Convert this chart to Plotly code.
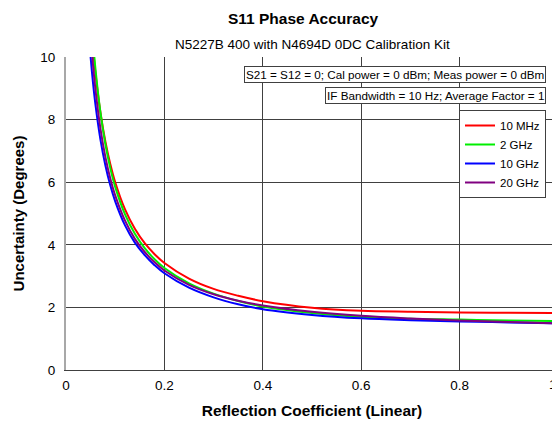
import plotly.graph_objects as go

# Reflection coefficient (linear) sample points and uncertainty readings (degrees)
gamma_10mhz = [0.05, 0.055, 0.06, 0.07, 0.08, 0.09, 0.1, 0.12, 0.14, 0.16, 0.18, 0.2, 0.25, 0.3, 0.35, 0.4, 0.5, 0.6, 0.7, 0.8, 0.9, 1.0]
u_10mhz = [11.2, 10.26, 9.47, 8.23, 7.3, 6.58, 6.0, 5.13, 4.51, 4.05, 3.70, 3.42, 2.92, 2.59, 2.37, 2.2, 1.99, 1.89, 1.86, 1.84, 1.83, 1.82]

gamma_2ghz = [0.05, 0.055, 0.06, 0.07, 0.08, 0.09, 0.1, 0.12, 0.14, 0.16, 0.18, 0.2, 0.25, 0.3, 0.35, 0.4, 0.5, 0.6, 0.7, 0.8, 0.9, 1.0]
u_2ghz = [11.5, 10.48, 9.6, 8.23, 7.22, 6.45, 5.85, 4.97, 4.35, 3.89, 3.54, 3.26, 2.77, 2.44, 2.205, 2.03, 1.82, 1.70, 1.64, 1.61, 1.58, 1.56]

gamma_10ghz = [0.045, 0.05, 0.055, 0.06, 0.07, 0.08, 0.09, 0.1, 0.12, 0.14, 0.16, 0.18, 0.2, 0.25, 0.3, 0.35, 0.4, 0.5, 0.6, 0.7, 0.8, 0.9, 1.0]
u_10ghz = [11.05, 10.0, 9.16, 8.46, 7.36, 6.54, 5.90, 5.39, 4.62, 4.07, 3.67, 3.35, 3.09, 2.63, 2.32, 2.10, 1.94, 1.76, 1.65, 1.59, 1.55, 1.52, 1.49]

gamma_20ghz = [0.045, 0.05, 0.055, 0.06, 0.07, 0.08, 0.09, 0.1, 0.12, 0.14, 0.16, 0.18, 0.2, 0.25, 0.3, 0.35, 0.4, 0.5, 0.6, 0.7, 0.8, 0.9, 1.0]
u_20ghz = [11.9, 10.7, 9.73, 8.94, 7.71, 6.81, 6.12, 5.58, 4.77, 4.19, 3.77, 3.44, 3.18, 2.72, 2.42, 2.215, 2.06, 1.86, 1.73, 1.645, 1.58, 1.53, 1.49]

series_names = ["10 MHz", "2 GHz", "10 GHz", "20 GHz"]
series_colors = ["#ff0000", "#00ee00", "#0000ff", "#800080"]

x_ticks = [0, 0.2, 0.4, 0.6, 0.8, 1]
x_tick_labels = ["0", "0.2", "0.4", "0.6", "0.8", "1"]
y_ticks = [0, 2, 4, 6, 8, 10]

FONT = "Liberation Sans, Arial, sans-serif"

fig = go.Figure()
for gx, gy, name, col in zip(
    [gamma_10mhz, gamma_2ghz, gamma_10ghz, gamma_20ghz],
    [u_10mhz, u_2ghz, u_10ghz, u_20ghz],
    series_names, series_colors,
):
    fig.add_trace(go.Scatter(
        x=gx, y=gy, mode="lines", name=name,
        line=dict(color=col, width=2, shape="spline", smoothing=1.0),
    ))

# page is offset by the default 8px body margin
OFF = 8
W, H = 552, 419
L, R, T, B = 58, 2, 49, 57
pw = W - L - R
ph = H - T - B

def px_x(p):  # page pixel -> paper
    return (p - OFF - L) / pw

def px_y(p):
    return (H - B - (p - OFF)) / ph

# the last tick label sits flush against the right edge (drawn right-aligned)
axis_tick_text = x_tick_labels[:-1] + [""]

fig.update_layout(
    width=W, height=H,
    margin=dict(l=L, r=R, t=T, b=B, autoexpand=False),
    paper_bgcolor="white", plot_bgcolor="white",
    font=dict(family=FONT, size=13, color="black"),
    showlegend=True,
    legend=dict(
        x=px_x(546), y=px_y(110), xanchor="right", yanchor="top",
        bordercolor="#404040", borderwidth=1, bgcolor="white",
        font=dict(size=11.5, family=FONT), itemwidth=30, tracegroupgap=0,
    ),
    xaxis=dict(
        range=[0, 1], tickvals=x_ticks, ticktext=axis_tick_text,
        showgrid=True, gridcolor="#404040", gridwidth=1,
        showline=True, linecolor="#404040", linewidth=1,
        zeroline=False, ticks="", tickfont=dict(size=13.5), ticklabelstandoff=3,
        title=dict(text="<b>Reflection Coefficient (Linear)</b>", font=dict(size=15.5), standoff=12),
    ),
    yaxis=dict(
        range=[0, 10], tickvals=y_ticks,
        showgrid=True, gridcolor="#404040", gridwidth=1,
        showline=True, linecolor="#a8a8a8", linewidth=2, mirror=True,
        zeroline=False, ticks="", tickfont=dict(size=13.5), ticklabelstandoff=6,
        title=dict(text="<b>Uncertainty (Degrees)</b>", font=dict(size=15), standoff=12),
    ),
    annotations=[
        dict(text="<b>S11 Phase Accuracy</b>", xref="paper", yref="paper",
             x=px_x(303), y=px_y(18), xanchor="center", yanchor="middle",
             showarrow=False, font=dict(size=15.5)),
        dict(text="N5227B 400 with N4694D 0DC Calibration Kit", xref="paper", yref="paper",
             x=px_x(312), y=px_y(45), xanchor="center", yanchor="middle",
             showarrow=False, font=dict(size=13.5)),
        dict(text="S21 = S12 = 0; Cal power = 0 dBm; Meas power = 0 dBm", xref="paper", yref="paper",
             x=px_x(546), y=px_y(74), xanchor="right", yanchor="middle",
             showarrow=False, font=dict(size=11.7), bgcolor="white",
             bordercolor="#404040", borderwidth=1, borderpad=1),
        dict(text="IF Bandwidth = 10 Hz; Average Factor = 1", xref="paper", yref="paper",
             x=px_x(546), y=px_y(95.5), xanchor="right", yanchor="middle",
             showarrow=False, font=dict(size=11.7), bgcolor="white",
             bordercolor="#404040", borderwidth=1, borderpad=1),
        dict(text=x_tick_labels[-1], xref="x", yref="paper",
             x=x_ticks[-1], y=px_y(384), xanchor="right", yanchor="middle",
             xshift=1, showarrow=False, font=dict(size=13.5)),
    ],
)

fig.write_html("out.html")
